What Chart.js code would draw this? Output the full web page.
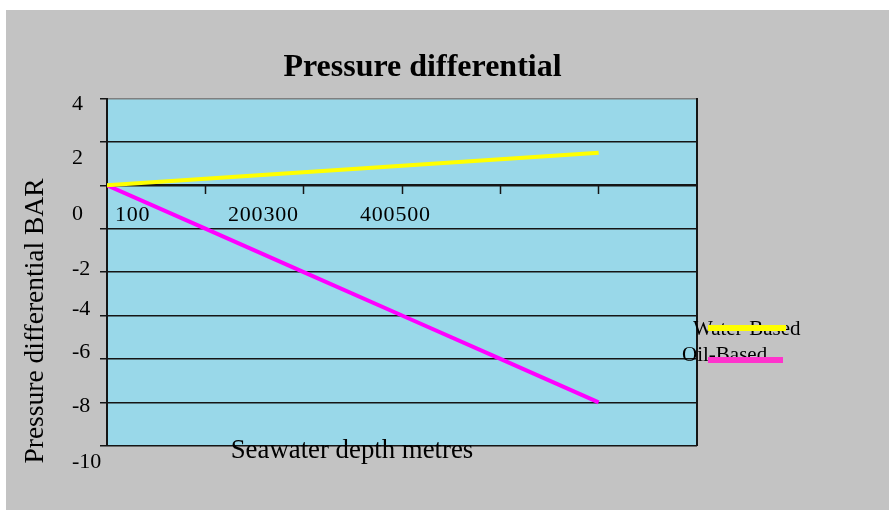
<!DOCTYPE html>
<html>
<head>
<meta charset="utf-8">
<script src="https://cdn.jsdelivr.net/npm/chart.js@4/dist/chart.umd.min.js"></script>
<style>
  html, body { margin: 0; padding: 0; background: #ffffff; width: 889px; height: 512px; overflow: hidden; }
  #panel { position: absolute; left: 6px; top: 10px; width: 883px; height: 500px; background: #c3c3c3; }
  #wrap { position: absolute; left: 0; top: 0; width: 889px; height: 512px; }
</style>
</head>
<body>
<div id="panel"></div>
<div id="wrap"><canvas id="c"></canvas></div>
<script>
// Seawater depth (m) and the pressure differential (bar) for each mud type
const depths = [0, 100, 200, 300, 400, 500];
const waterBased = [0, 0.3, 0.6, 0.9, 1.2, 1.5];
const oilBased = [0, -2, -4, -6, -8, -10];
const seriesNames = ['Water-Based', 'Oil-Based'];

// Axis tick labels as printed
const yTickLabels = ['4', '2', '0', '-2', '-4', '-6', '-8', '-10'];
const xTickLabels = ['100', '200', '300', '400', '500'];

// Styling / layout
const SERIF = "'Liberation Serif', 'Times New Roman', serif";
const PLOT_BG = '#99d8e9';
const LINE_COLORS = ['#ffff00', '#ff00ff'];
const KEY_COLORS = ['#ffff00', '#ff33cc'];
const Y_LABEL_LEFT = 72;
const Y_LABEL_BASELINES = [110, 164, 220, 275, 315, 358, 412, 468];
const X_LABEL_LEFTS = [115, 228, 263.5, 360, 395.5];
const X_LABEL_BASELINE = 221;
const KEY = [
  { textX: 693, textY: 335, x1: 708, x2: 786, y: 328 },
  { textX: 682, textY: 361, x1: 708, x2: 783, y: 360 }
];

const points = (ys) => depths.map((d, i) => ({ x: d, y: ys[i] }));

const decorations = {
  id: 'decorations',
  beforeDraw(chart) {
    const { ctx, chartArea: a } = chart;
    ctx.save();
    ctx.fillStyle = PLOT_BG;
    ctx.fillRect(a.left, a.top, a.right - a.left, a.bottom - a.top);
    ctx.restore();
  },
  afterDraw(chart) {
    const { ctx } = chart;
    ctx.save();
    ctx.fillStyle = '#000';
    ctx.textBaseline = 'alphabetic';
    ctx.textAlign = 'left';

    // value axis labels
    ctx.font = `22px ${SERIF}`;
    yTickLabels.forEach((t, i) => ctx.fillText(t, Y_LABEL_LEFT, Y_LABEL_BASELINES[i]));

    // depth axis labels
    ctx.save();
    ctx.letterSpacing = '0.8px';
    xTickLabels.forEach((t, i) => ctx.fillText(t, X_LABEL_LEFTS[i], X_LABEL_BASELINE));
    ctx.restore();

    // axis titles
    ctx.textAlign = 'center';
    ctx.font = `26.8px ${SERIF}`;
    ctx.fillText('Seawater depth metres', 352, 458);
    ctx.save();
    ctx.font = `27.5px ${SERIF}`;
    ctx.translate(43, 321);
    ctx.rotate(-Math.PI / 2);
    ctx.fillText('Pressure differential BAR', 0, 0);
    ctx.restore();

    // key
    ctx.font = `21px ${SERIF}`;
    ctx.textAlign = 'left';
    chart.data.datasets.forEach((ds, i) => {
      const k = KEY[i];
      ctx.fillStyle = '#000';
      ctx.fillText(ds.label, k.textX, k.textY);
      ctx.strokeStyle = KEY_COLORS[i];
      ctx.lineWidth = 6;
      ctx.beginPath();
      ctx.moveTo(k.x1, k.y);
      ctx.lineTo(k.x2, k.y);
      ctx.stroke();
    });
    ctx.restore();
  }
};

new Chart(document.getElementById('c'), {
  type: 'line',
  data: {
    datasets: [
      { label: seriesNames[0], data: points(waterBased), borderColor: LINE_COLORS[0], borderWidth: 4, pointRadius: 0, tension: 0 },
      { label: seriesNames[1], data: points(oilBased), borderColor: LINE_COLORS[1], borderWidth: 4, pointRadius: 0, tension: 0 }
    ]
  },
  options: {
    responsive: true,
    maintainAspectRatio: false,
    animation: false,
    devicePixelRatio: 1,
    layout: { padding: { top: 0, left: 0, right: 44, bottom: 66.3 } },
    plugins: {
      legend: { display: false },
      tooltip: { enabled: false },
      title: {
        display: true,
        text: 'Pressure differential',
        color: '#000',
        font: { family: SERIF, size: 32, weight: 'bold', lineHeight: 1.2 },
        padding: { top: 48.3, bottom: 11.8 }
      }
    },
    scales: {
      x: {
        type: 'linear',
        min: 0,
        max: 600,
        position: { y: 0 },
        ticks: { display: false, stepSize: 100 },
        grid: {
          display: true,
          drawOnChartArea: false,
          drawTicks: true,
          tickLength: 8,
          tickWidth: 1.5,
          tickColor: (c) => (c.tick && (c.tick.value === 0 || c.tick.value === 600)) ? 'rgba(0,0,0,0)' : '#151515'
        },
        border: { display: true, color: '#151515', width: 2 }
      },
      y: {
        type: 'linear',
        min: -12,
        max: 4,
        position: 'left',
        ticks: { display: false, stepSize: 2 },
        grid: {
          color: (c) => (c.tick && c.tick.value === 4) ? '#7f7f7f' : '#151515',
          lineWidth: 1.5,
          drawTicks: true,
          tickLength: 7,
          tickColor: '#151515',
          tickWidth: 1.5
        },
        border: { display: true, color: '#151515', width: 2 },
        afterFit: (s) => { s.width = 107; }
      },
      yRight: {
        type: 'linear',
        position: 'right',
        display: true,
        ticks: { display: false },
        grid: { display: false },
        border: { display: true, color: '#151515', width: 2 },
        afterFit: (s) => { s.width = 148; }
      }
    }
  },
  plugins: [decorations]
});
</script>
</body>
</html>
